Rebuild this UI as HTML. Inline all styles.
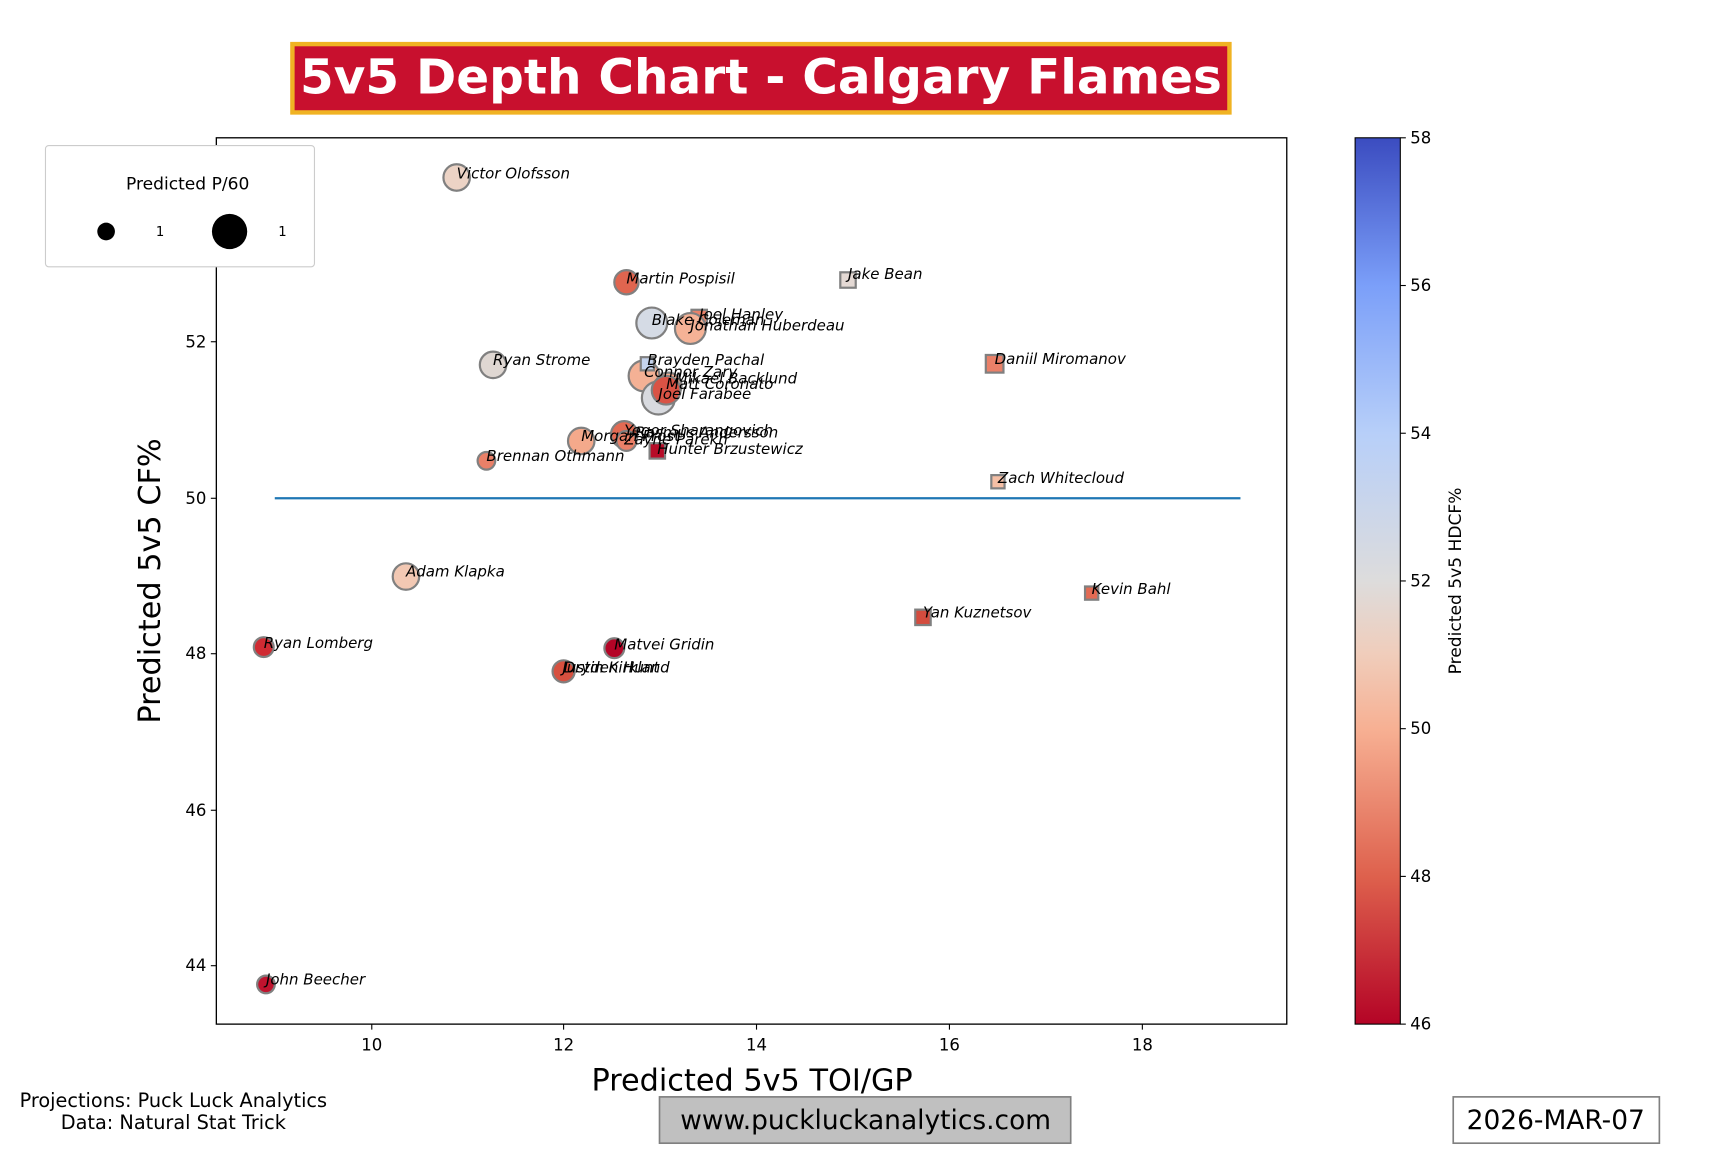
<!DOCTYPE html>
<html><head><meta charset="utf-8"><style>body{margin:0;background:#fff}svg{display:block}</style></head><body>
<svg width="1728" height="1152" viewBox="0 0 1567 1045" xmlns="http://www.w3.org/2000/svg" font-family="DejaVu Sans, Liberation Sans, sans-serif">
<defs><linearGradient id="cb" x1="0" y1="1" x2="0" y2="0">
<stop offset="0" stop-color="#b40426"/><stop offset="0.167" stop-color="#de614d"/><stop offset="0.333" stop-color="#f7b093"/><stop offset="0.417" stop-color="#f0cdbb"/><stop offset="0.5" stop-color="#dddcdc"/><stop offset="0.667" stop-color="#b7cff9"/><stop offset="0.833" stop-color="#7b9ff9"/><stop offset="1" stop-color="#3b4cc0"/></linearGradient></defs>
<rect x="265" y="40" width="850" height="62" fill="#c8102e" stroke="#f0b323" stroke-width="4"/>
<text x="690" y="85" text-anchor="middle" font-size="44" font-weight="bold" fill="#fff">5v5 Depth Chart - Calgary Flames</text>
<rect x="196" y="125" width="971" height="804" fill="none" stroke="#000" stroke-width="1.2"/>
<g font-size="15" text-anchor="middle">
<line x1="337" y1="929" x2="337" y2="934" stroke="#000"/><text x="337" y="953">10</text>
<line x1="511" y1="929" x2="511" y2="934" stroke="#000"/><text x="511" y="953">12</text>
<line x1="686" y1="929" x2="686" y2="934" stroke="#000"/><text x="686" y="953">14</text>
<line x1="861" y1="929" x2="861" y2="934" stroke="#000"/><text x="861" y="953">16</text>
<line x1="1036" y1="929" x2="1036" y2="934" stroke="#000"/><text x="1036" y="953">18</text>
</g>
<g font-size="15" text-anchor="end">
<line x1="191" y1="310" x2="196" y2="310" stroke="#000"/><text x="187" y="315">52</text>
<line x1="191" y1="452" x2="196" y2="452" stroke="#000"/><text x="187" y="457">50</text>
<line x1="191" y1="593" x2="196" y2="593" stroke="#000"/><text x="187" y="598">48</text>
<line x1="191" y1="735" x2="196" y2="735" stroke="#000"/><text x="187" y="740">46</text>
<line x1="191" y1="876" x2="196" y2="876" stroke="#000"/><text x="187" y="881">44</text>
</g>
<text x="682" y="989" text-anchor="middle" font-size="27.5">Predicted 5v5 TOI/GP</text>
<text transform="translate(145,527) rotate(-90)" text-anchor="middle" font-size="27.5">Predicted 5v5 CF%</text>
<line x1="249" y1="452" x2="1125" y2="452" stroke="#1f77b4" stroke-width="2"/>
<g stroke="#808080" stroke-width="2">
<circle cx="414" cy="161" r="12" fill="#ecd3c5"/>
<circle cx="568" cy="256" r="11" fill="#e0654f"/>
<rect x="762" y="247" width="14" height="14" fill="#e4d9d4"/>
<circle cx="591" cy="293" r="14" fill="#d5dbe5"/>
<rect x="627" y="281" width="14" height="14" fill="#e8826a"/>
<circle cx="626" cy="298" r="14" fill="#f5b296"/>
<circle cx="447" cy="331" r="12" fill="#dfd7d2"/>
<rect x="894" y="322" width="16" height="16" fill="#ea8068"/>
<circle cx="584" cy="341" r="14" fill="#f4b195"/>
<rect x="581" y="324" width="12" height="12" fill="#c5d4ed"/>
<circle cx="606" cy="350" r="12" fill="#f4a98b"/>
<circle cx="597" cy="361" r="15" fill="#d8dadf"/>
<circle cx="604" cy="354" r="13" fill="#d95345"/>
<circle cx="527" cy="400" r="12" fill="#f4a98b"/>
<circle cx="566" cy="394" r="12" fill="#e36a53"/>
<circle cx="568" cy="400" r="9" fill="#ea8068"/>
<rect x="589" y="402" width="14" height="14" fill="#b70c28"/>
<circle cx="441" cy="418" r="8" fill="#ea8068"/>
<rect x="899" y="431" width="12" height="12" fill="#f5bfa5"/>
<circle cx="368" cy="523" r="12" fill="#f2c8b3"/>
<rect x="984" y="532" width="12" height="12" fill="#e36a53"/>
<rect x="830" y="553" width="14" height="14" fill="#d44c3e"/>
<circle cx="239" cy="587" r="9" fill="#d02b33"/>
<circle cx="557" cy="588" r="9" fill="#b40426"/>
<circle cx="511" cy="609" r="10" fill="#d7503f"/>
<circle cx="241" cy="893" r="8" fill="#c0132e"/>
</g>
<g font-size="13.6" font-style="italic">
<text x="414" y="162">Victor Olofsson</text>
<text x="568" y="257">Martin Pospisil</text>
<text x="769" y="253">Jake Bean</text>
<text x="634" y="290">Joel Hanley</text>
<text x="591" y="295">Blake Coleman</text>
<text x="626" y="300">Jonathan Huberdeau</text>
<text x="447" y="331">Ryan Strome</text>
<text x="902" y="330">Daniil Miromanov</text>
<text x="587" y="331">Brayden Pachal</text>
<text x="584" y="342">Connor Zary</text>
<text x="612" y="348">Mikael Backlund</text>
<text x="604" y="353">Matt Coronato</text>
<text x="597" y="362">Joel Farabee</text>
<text x="566" y="395">Yegor Sharangovich</text>
<text x="576" y="397">Rasmus Andersson</text>
<text x="527" y="400">Morgan Frost</text>
<text x="566" y="403">Zayne Parekh</text>
<text x="596" y="412">Hunter Brzustewicz</text>
<text x="441" y="418">Brennan Othmann</text>
<text x="905" y="438">Zach Whitecloud</text>
<text x="368" y="523">Adam Klapka</text>
<text x="990" y="539">Kevin Bahl</text>
<text x="837" y="560">Yan Kuznetsov</text>
<text x="239" y="588">Ryan Lomberg</text>
<text x="557" y="589">Matvei Gridin</text>
<text x="510" y="610">Justin Kirkland</text>
<text x="511" y="610">Dryden Hunt</text>
<text x="241" y="893">John Beecher</text>
</g>
<rect x="41" y="132" width="244" height="110" rx="3" fill="#fff" stroke="#ccc"/>
<text x="170" y="172" text-anchor="middle" font-size="15.5">Predicted P/60</text>
<circle cx="96" cy="210" r="8" fill="#000"/><circle cx="208" cy="210" r="16" fill="#000"/>
<text x="145" y="214" text-anchor="middle" font-size="12">1</text>
<text x="256" y="214" text-anchor="middle" font-size="12">1</text>
<rect x="1229" y="125" width="41" height="804" fill="url(#cb)" stroke="#000" stroke-width="1"/>
<g font-size="15">
<line x1="1270" y1="929" x2="1275" y2="929" stroke="#000"/><text x="1279" y="934">46</text>
<line x1="1270" y1="795" x2="1275" y2="795" stroke="#000"/><text x="1279" y="800">48</text>
<line x1="1270" y1="661" x2="1275" y2="661" stroke="#000"/><text x="1279" y="666">50</text>
<line x1="1270" y1="527" x2="1275" y2="527" stroke="#000"/><text x="1279" y="532">52</text>
<line x1="1270" y1="393" x2="1275" y2="393" stroke="#000"/><text x="1279" y="398">54</text>
<line x1="1270" y1="259" x2="1275" y2="259" stroke="#000"/><text x="1279" y="264">56</text>
<line x1="1270" y1="125" x2="1275" y2="125" stroke="#000"/><text x="1279" y="130">58</text>
</g>
<text transform="translate(1325,527) rotate(-90)" text-anchor="middle" font-size="15.5">Predicted 5v5 HDCF%</text>
<text x="157" y="1004" text-anchor="middle" font-size="17.5">Projections: Puck Luck Analytics</text>
<text x="157" y="1024" text-anchor="middle" font-size="17.5">Data: Natural Stat Trick</text>
<rect x="598" y="995" width="373" height="42" fill="#c0c0c0" stroke="#808080" stroke-width="1.5"/>
<text x="785" y="1024" text-anchor="middle" font-size="24">www.puckluckanalytics.com</text>
<rect x="1318" y="995" width="187" height="42" fill="#fff" stroke="#808080" stroke-width="1.5"/>
<text x="1411" y="1024" text-anchor="middle" font-size="24">2026-MAR-07</text>
</svg>
</body></html>
